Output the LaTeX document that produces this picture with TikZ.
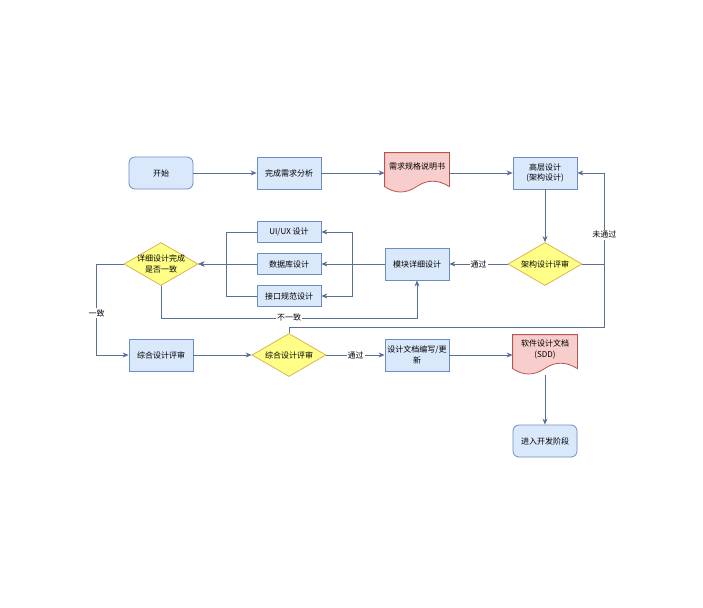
\documentclass[tikz,border=0pt]{standalone}
\usepackage{fontspec}
\newfontfamily\cjk{Noto Sans CJK SC}
\usetikzlibrary{shapes.geometric,arrows.meta,backgrounds,calc}

\definecolor{procfill}{HTML}{DAE8FC}
\definecolor{procline}{HTML}{6C8EBF}
\definecolor{docfill}{HTML}{F8CECC}
\definecolor{docline}{HTML}{B85450}
\definecolor{decfill}{HTML}{FFFF88}
\definecolor{decline}{HTML}{D6B656}
\definecolor{linkcol}{HTML}{5A6F94}

\tikzset{
  base/.style={font=\cjk\fontsize{8}{10.5}\selectfont, align=center, line width=0.8pt, inner sep=2pt},
  term/.style={base, rectangle, rounded corners=6pt, draw=procline, fill=procfill, minimum width=64pt, minimum height=32pt},
  proc/.style={base, rectangle, draw=procline, fill=procfill, minimum width=64pt, minimum height=32pt},
  subproc/.style={proc, minimum height=21pt},
  decision/.style={base, diamond, aspect=1.7, inner sep=-3pt, draw=decline, fill=decfill, minimum width=74pt, minimum height=43pt},
  doc/.style={base, rectangle, minimum width=64pt, minimum height=40pt, text depth=13pt},
  docshape/.style={draw=docline, fill=docfill, line width=0.8pt},
  link/.style={->, draw=linkcol, line width=0.8pt},
  lbl/.style={font=\cjk\fontsize{8}{10}\selectfont, fill=white, inner sep=1pt}
}

\begin{document}
\begin{tikzpicture}[x=1pt, y=-1pt, node distance=128pt, >={Stealth[length=6pt,width=5pt]}]
\useasboundingbox (0,0) rectangle (703,607);

\node (start) [term] at (161,173) {开始};
\node (req) [proc, right of=start] {完成需求分析};
\node (spec) [doc, right of=req] {需求规格说明书};
\node (hld) [proc, right of=spec] {高层设计\\(架构设计)};
\node (archrev) [decision, below of=hld, node distance=91pt] {架构设计评审};
\node (module) [proc, left of=archrev] {模块详细设计};
\node (db) [subproc, left of=module] {数据库设计};
\node (ui) [subproc, above of=db, node distance=32pt] {UI/UX 设计};
\node (api) [subproc, below of=db, node distance=32pt] {接口规范设计};
\node (consist) [decision, left of=db] {详细设计完成\\是否一致};
\node (intrev) [proc, below of=consist, node distance=91pt] {综合设计评审};
\node (intdec) [decision, right of=intrev] {综合设计评审};
\node (docw) [proc, right of=intdec] {设计文档编写/更\\新};
\node (sdd) [doc, right of=docw] {软件设计文档\\(SDD)};
\node (dev) [term, below of=sdd, node distance=86pt] {进入开发阶段};

% document outlines
\begin{scope}[on background layer]
\foreach \d in {spec,sdd}
  \draw[docshape] (\d.north west) -- (\d.north east) -- ($(\d.north east)+(0,34)$)
    .. controls ($(\d.north west)+(53.3,26.8)$) and ($(\d.north west)+(42.7,26.8)$) .. ($(\d.north west)+(32,34)$)
    .. controls ($(\d.north west)+(21.3,41.2)$) and ($(\d.north west)+(10.7,41.2)$) .. ($(\d.north west)+(0,34)$) -- cycle;
\end{scope}

\draw[link] (start) -- (req);
\draw[link] (req) -- (spec);
\draw[link] (spec) -- (hld);
\draw[link] (hld) -- (archrev);
\draw[link] (archrev) -- node[lbl] {通过} (module);
\draw[link] (archrev.east) -- ++(22,0) coordinate (back) |- node[lbl, pos=0.16] {未通过} (hld.east);
\draw[link, -] (intdec.north) -- ++(0,-6) -| (back);

% detail design branches
\draw[link] (module) -- (db);
\draw[link] (db) -- (consist);
\foreach \s in {ui,api} {
  \draw[link] (module.west) -- ++(-32,0) |- (\s.east);
  \draw[link] (\s.west) -- ++(-30,0) |- (consist.east);
}

\draw[link] (consist.south) -- ++(0,32) -| node[lbl, pos=0.25] {不一致} (module.south);
\draw[link] (consist.west) -- ++(-27,0) |- node[lbl, pos=0.27] {一致} (intrev.west);

\draw[link] (intrev) -- (intdec);
\draw[link] (intdec) -- node[lbl] {通过} (docw);
\draw[link] (docw) -- (sdd);
\draw[link] (sdd.south) -- (dev);
\end{tikzpicture}
\end{document}
